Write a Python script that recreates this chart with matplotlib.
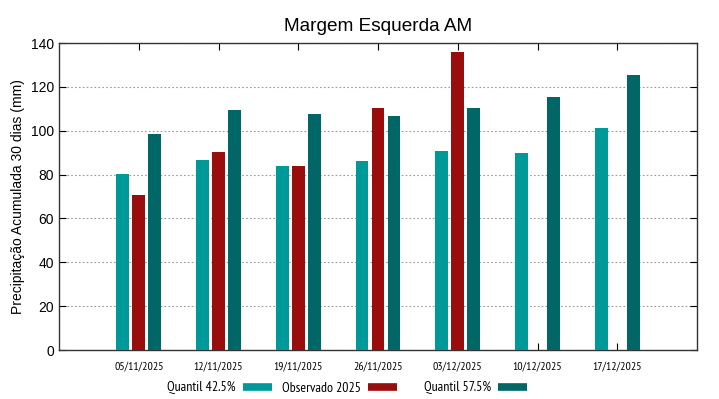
import numpy as np
import matplotlib.pyplot as plt

plt.rcParams['font.family'] = ['Liberation Sans', 'DejaVu Sans']
estreita = ['Liberation Sans Narrow', 'PT Sans Narrow', 'Archivo Narrow',
            'Liberation Sans', 'DejaVu Sans']

datas = ['05/11/2025', '12/11/2025', '19/11/2025', '26/11/2025',
         '03/12/2025', '10/12/2025', '17/12/2025']
q425 = [80.3, 86.5, 83.9, 86.0, 90.9, 90.0, 101.4]
obs = [70.7, 90.4, 83.9, 110.5, 135.9, np.nan, np.nan]
q575 = [98.4, 109.4, 107.6, 106.7, 110.5, 115.2, 125.4]

cor_q425 = '#009999'
cor_obs = '#990d0d'
cor_q575 = '#006666'

fig = plt.figure(figsize=(7.19, 3.99), dpi=100)
ax = fig.add_axes([0.0821, 0.1228, 0.8873, 0.7694])

x = np.arange(len(datas))
w = 0.16
ax.bar(x - 0.2, q425, w, color=cor_q425, zorder=3)
ax.bar(x, obs, w, color=cor_obs, zorder=3)
ax.bar(x + 0.2, q575, w, color=cor_q575, zorder=3)

ax.set_xlim(-1, 7)
ax.set_ylim(0, 140)
ax.set_xticks(x)
ax.set_xticklabels(datas, fontsize=8.5, family=estreita)
ax.set_yticks(np.arange(0, 141, 20))
ax.tick_params(axis='y', labelsize=10, direction='in', right=True, length=5)
ax.tick_params(axis='x', direction='in', top=True, length=5, pad=8.5)
ax.grid(axis='y', linestyle=(0, (1.5, 2)), color='#999999', linewidth=0.8, zorder=0)
ax.set_ylabel('Precipitação Acumulada 30 dias (mm)', fontsize=10)
ax.set_title('Margem Esquerda AM', fontsize=13.7, pad=9)
for s in ax.spines.values():
    s.set_linewidth(1)
    s.set_color('#333333')

# legenda estilo gnuplot: texto e depois a amostra
entradas = [('Quantil 42.5%', cor_q425, 167),
            ('Observado 2025', cor_obs, 282),
            ('Quantil 57.5%', cor_q575, 424)]
for nome, cor, xpix in entradas:
    h = plt.Line2D([], [], color=cor, lw=5.5, solid_capstyle='butt')
    fig.legend([h], [nome], loc='center left',
               bbox_to_anchor=(xpix / 719, 1 - 388 / 399),
               frameon=False, markerfirst=False,
               prop={'family': estreita, 'size': 10},
               handlelength=2.1, handletextpad=0.5,
               borderpad=0, borderaxespad=0)

fig.savefig('out.png', dpi=100)
